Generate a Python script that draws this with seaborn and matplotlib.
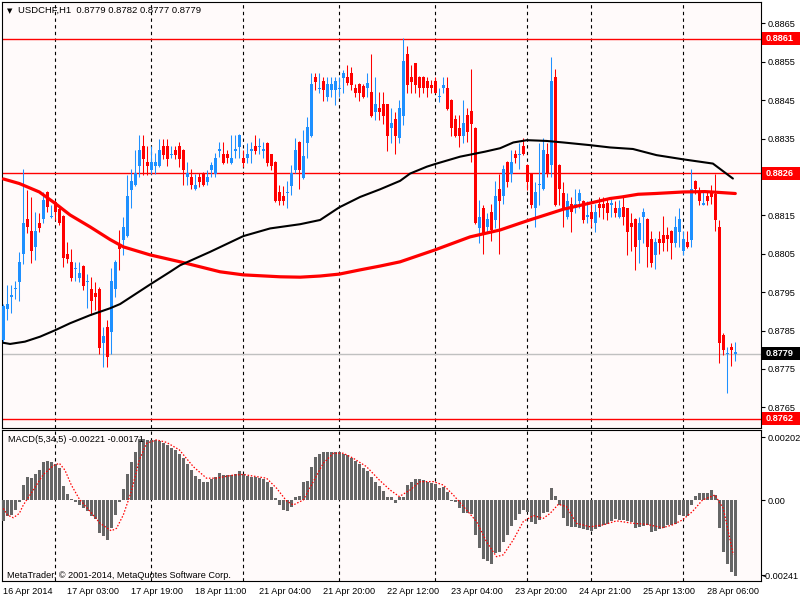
import matplotlib
matplotlib.use('Agg')
import matplotlib.pyplot as plt
import matplotlib.transforms as mtransforms
from matplotlib.patches import Rectangle
import seaborn as sns
import numpy as np
import pandas as pd

sns.set_style('white')
plt.rcParams['font.family'] = ['Liberation Sans', 'DejaVu Sans']

# USDCHF H1 candles (bar 0 = 16 Apr 2014 11:00)
opens = [
    0.87825, 0.87906, 0.87938, 0.87958, 0.87977, 0.88049, 0.88140, 0.88110, 0.88068, 0.88131,
    0.88140, 0.88210, 0.88146, 0.88186, 0.88166, 0.88148, 0.88049, 0.88029, 0.88009, 0.87988,
    0.88018, 0.87976, 0.87957, 0.87947, 0.87958, 0.87817, 0.87858, 0.87847, 0.87957, 0.88075,
    0.88086, 0.88096, 0.88216, 0.88229, 0.88278, 0.88331, 0.88290, 0.88268, 0.88278, 0.88278,
    0.88331, 0.88330, 0.88308, 0.88320, 0.88330, 0.88320, 0.88249, 0.88249, 0.88218, 0.88249,
    0.88261, 0.88238, 0.88268, 0.88258, 0.88319, 0.88310, 0.88310, 0.88287, 0.88319, 0.88329,
    0.88299, 0.88299, 0.88319, 0.88331, 0.88327, 0.88319, 0.88339, 0.88310, 0.88290, 0.88212,
    0.88200, 0.88209, 0.88226, 0.88268, 0.88341, 0.88248, 0.88339, 0.88357, 0.88511, 0.88480,
    0.88501, 0.88459, 0.88478, 0.88478, 0.88480, 0.88509, 0.88511, 0.88521, 0.88481, 0.88492,
    0.88487, 0.88481, 0.88472, 0.88420, 0.88430, 0.88439, 0.88439, 0.88378, 0.88401, 0.88351,
    0.88409, 0.88570, 0.88511, 0.88546, 0.88511, 0.88511, 0.88500, 0.88491, 0.88500, 0.88458,
    0.88481, 0.88481, 0.88450, 0.88401, 0.88378, 0.88357, 0.88411, 0.88422, 0.88378, 0.88118,
    0.88168, 0.88119, 0.88160, 0.88138, 0.88218, 0.88200, 0.88290, 0.88258, 0.88310, 0.88308,
    0.88331, 0.88281, 0.88259, 0.88168, 0.88228, 0.88218, 0.88310, 0.88281, 0.88511, 0.88281,
    0.88209, 0.88146, 0.88180, 0.88168, 0.88188, 0.88188, 0.88147, 0.88160, 0.88129, 0.88180,
    0.88180, 0.88181, 0.88178, 0.88168, 0.88146, 0.88173, 0.88168, 0.88131, 0.88140, 0.88086,
    0.88146, 0.88140, 0.88088, 0.88047, 0.88088, 0.88099, 0.88099, 0.88110, 0.88079, 0.88107,
    0.88058, 0.88081, 0.88086, 0.88239, 0.88212, 0.88178, 0.88200, 0.88212, 0.88207, 0.88119,
    0.87838, 0.87788, 0.87806, 0.87790,
]
highs = [
    0.87919, 0.87969, 0.87969, 0.87980, 0.88055, 0.88271, 0.88216, 0.88199, 0.88160, 0.88157,
    0.88212, 0.88214, 0.88177, 0.88190, 0.88173, 0.88150, 0.88081, 0.88062, 0.88029, 0.88029,
    0.88020, 0.87997, 0.87990, 0.87977, 0.87964, 0.87860, 0.87877, 0.88012, 0.88034, 0.88112,
    0.88146, 0.88255, 0.88270, 0.88320, 0.88359, 0.88359, 0.88331, 0.88331, 0.88312, 0.88349,
    0.88349, 0.88349, 0.88331, 0.88330, 0.88342, 0.88322, 0.88290, 0.88270, 0.88259, 0.88261,
    0.88263, 0.88268, 0.88290, 0.88312, 0.88342, 0.88342, 0.88320, 0.88359, 0.88359, 0.88361,
    0.88320, 0.88338, 0.88342, 0.88359, 0.88351, 0.88342, 0.88341, 0.88311, 0.88291, 0.88229,
    0.88226, 0.88240, 0.88281, 0.88351, 0.88343, 0.88372, 0.88407, 0.88520, 0.88521, 0.88520,
    0.88511, 0.88511, 0.88511, 0.88511, 0.88511, 0.88528, 0.88541, 0.88537, 0.88492, 0.88494,
    0.88492, 0.88520, 0.88570, 0.88511, 0.88472, 0.88472, 0.88441, 0.88430, 0.88420, 0.88450,
    0.88611, 0.88592, 0.88541, 0.88548, 0.88513, 0.88513, 0.88511, 0.88502, 0.88511, 0.88481,
    0.88511, 0.88511, 0.88452, 0.88411, 0.88411, 0.88450, 0.88430, 0.88531, 0.88380, 0.88190,
    0.88177, 0.88157, 0.88180, 0.88239, 0.88259, 0.88281, 0.88292, 0.88320, 0.88320, 0.88339,
    0.88351, 0.88283, 0.88261, 0.88238, 0.88339, 0.88351, 0.88339, 0.88562, 0.88531, 0.88283,
    0.88238, 0.88209, 0.88199, 0.88218, 0.88218, 0.88190, 0.88188, 0.88180, 0.88180, 0.88199,
    0.88199, 0.88192, 0.88192, 0.88188, 0.88190, 0.88197, 0.88170, 0.88155, 0.88142, 0.88146,
    0.88168, 0.88142, 0.88110, 0.88090, 0.88110, 0.88148, 0.88120, 0.88112, 0.88148, 0.88168,
    0.88110, 0.88110, 0.88270, 0.88241, 0.88225, 0.88212, 0.88212, 0.88229, 0.88258, 0.88138,
    0.87843, 0.87806, 0.87817, 0.87820,
]
lows = [
    0.87820, 0.87877, 0.87896, 0.87931, 0.87928, 0.88023, 0.88104, 0.88027, 0.88034, 0.88107,
    0.88129, 0.88158, 0.88144, 0.88138, 0.88125, 0.88016, 0.88025, 0.87980, 0.87980, 0.87977,
    0.87956, 0.87908, 0.87891, 0.87904, 0.87789, 0.87756, 0.87756, 0.87789, 0.87938, 0.88008,
    0.88047, 0.88094, 0.88168, 0.88227, 0.88251, 0.88255, 0.88255, 0.88258, 0.88259, 0.88276,
    0.88296, 0.88279, 0.88299, 0.88296, 0.88277, 0.88229, 0.88229, 0.88218, 0.88216, 0.88225,
    0.88226, 0.88229, 0.88249, 0.88249, 0.88301, 0.88285, 0.88287, 0.88285, 0.88299, 0.88299,
    0.88277, 0.88287, 0.88287, 0.88310, 0.88310, 0.88299, 0.88278, 0.88268, 0.88186, 0.88177,
    0.88177, 0.88168, 0.88203, 0.88261, 0.88218, 0.88246, 0.88299, 0.88355, 0.88478, 0.88468,
    0.88449, 0.88449, 0.88459, 0.88437, 0.88459, 0.88469, 0.88489, 0.88478, 0.88459, 0.88449,
    0.88457, 0.88459, 0.88407, 0.88398, 0.88398, 0.88387, 0.88318, 0.88338, 0.88309, 0.88338,
    0.88385, 0.88470, 0.88470, 0.88470, 0.88459, 0.88470, 0.88459, 0.88470, 0.88468, 0.88446,
    0.88470, 0.88425, 0.88357, 0.88355, 0.88329, 0.88338, 0.88342, 0.88290, 0.88127, 0.88077,
    0.88049, 0.88105, 0.88084, 0.88116, 0.88049, 0.88180, 0.88225, 0.88238, 0.88286, 0.88270,
    0.88308, 0.88216, 0.88168, 0.88119, 0.88177, 0.88216, 0.88249, 0.88249, 0.88175, 0.88177,
    0.88119, 0.88140, 0.88107, 0.88157, 0.88168, 0.88129, 0.88129, 0.88119, 0.88107, 0.88146,
    0.88140, 0.88138, 0.88146, 0.88146, 0.88144, 0.88125, 0.88047, 0.88058, 0.88007, 0.88027,
    0.88079, 0.88016, 0.88016, 0.88010, 0.88049, 0.88058, 0.88058, 0.88036, 0.88068, 0.88068,
    0.88047, 0.88066, 0.88068, 0.88207, 0.88177, 0.88177, 0.88177, 0.88180, 0.88110, 0.87766,
    0.87786, 0.87687, 0.87758, 0.87770,
]
closes = [
    0.87914, 0.87919, 0.87942, 0.87962, 0.88029, 0.88131, 0.88119, 0.88058, 0.88109, 0.88118,
    0.88190, 0.88171, 0.88148, 0.88160, 0.88129, 0.88038, 0.88037, 0.87988, 0.88012, 0.88001,
    0.87966, 0.87979, 0.87928, 0.87938, 0.87805, 0.87837, 0.87782, 0.87979, 0.88029, 0.88062,
    0.88120, 0.88200, 0.88240, 0.88261, 0.88320, 0.88296, 0.88278, 0.88290, 0.88290, 0.88320,
    0.88307, 0.88296, 0.88311, 0.88307, 0.88296, 0.88268, 0.88261, 0.88229, 0.88229, 0.88238,
    0.88229, 0.88249, 0.88281, 0.88299, 0.88321, 0.88287, 0.88299, 0.88299, 0.88321, 0.88359,
    0.88287, 0.88310, 0.88321, 0.88318, 0.88330, 0.88321, 0.88286, 0.88278, 0.88188, 0.88188,
    0.88188, 0.88211, 0.88261, 0.88320, 0.88268, 0.88306, 0.88379, 0.88492, 0.88498, 0.88482,
    0.88478, 0.88492, 0.88492, 0.88501, 0.88482, 0.88520, 0.88496, 0.88489, 0.88469, 0.88469,
    0.88459, 0.88494, 0.88409, 0.88439, 0.88420, 0.88409, 0.88357, 0.88390, 0.88357, 0.88430,
    0.88552, 0.88491, 0.88498, 0.88491, 0.88481, 0.88481, 0.88481, 0.88481, 0.88470, 0.88460,
    0.88491, 0.88427, 0.88378, 0.88357, 0.88357, 0.88390, 0.88368, 0.88387, 0.88129, 0.88146,
    0.88101, 0.88140, 0.88112, 0.88200, 0.88188, 0.88270, 0.88238, 0.88290, 0.88299, 0.88310,
    0.88310, 0.88238, 0.88177, 0.88212, 0.88230, 0.88320, 0.88258, 0.88500, 0.88177, 0.88218,
    0.88168, 0.88188, 0.88160, 0.88180, 0.88209, 0.88138, 0.88150, 0.88140, 0.88160, 0.88168,
    0.88168, 0.88157, 0.88181, 0.88157, 0.88168, 0.88146, 0.88107, 0.88119, 0.88068, 0.88131,
    0.88158, 0.88068, 0.88027, 0.88081, 0.88079, 0.88079, 0.88088, 0.88079, 0.88120, 0.88141,
    0.88088, 0.88068, 0.88218, 0.88218, 0.88188, 0.88181, 0.88188, 0.88199, 0.88138, 0.87817,
    0.87798, 0.87790, 0.87798, 0.87790,
]

# slow moving average (red) and fast moving average (black), sampled by bar
red_ma_x = [0, 4, 9, 13, 16.7, 21.7, 26.7, 30, 36.7, 44.2, 49.2, 54.2, 60, 69.2, 74.2,
            79.2, 84, 89.2, 94.2, 99.2, 107.9, 116.7, 124.2, 131, 140, 151.7, 154.6,
            158.7, 163, 170, 175.4, 178.7, 183]
red_ma_y = [0.88245, 0.88233, 0.88211, 0.88181, 0.88151, 0.88120, 0.88087, 0.88068,
            0.88047, 0.88029, 0.88016, 0.88003, 0.87995, 0.87990, 0.87989, 0.87992,
            0.87997, 0.88008, 0.88018, 0.88029, 0.88060, 0.88094, 0.88112, 0.88136,
            0.88166, 0.88194, 0.88198, 0.88205, 0.88207, 0.88211, 0.88212, 0.88210, 0.88207]
black_ma_x = [0, 1.7, 5.4, 9.2, 13, 16.7, 21.7, 26.7, 29.2, 36.7, 41.7, 44.2, 51.7, 60,
              66.7, 74.2, 79.2, 84, 89.2, 94.2, 99.2, 101.7, 105.9, 108, 114.2, 120.4,
              124.2, 127.5, 130.9, 135.8, 140, 146.7, 151.7, 157.4, 163.3, 170, 177.4, 182.4]
black_ma_y = [0.87818, 0.87815, 0.87821, 0.87834, 0.87851, 0.87869, 0.87890, 0.87908,
              0.87919, 0.87970, 0.88003, 0.88020, 0.88055, 0.88096, 0.88116, 0.88127,
              0.88138, 0.88171, 0.88198, 0.88218, 0.88240, 0.88259, 0.88277, 0.88284,
              0.88303, 0.88316, 0.88325, 0.88340, 0.88346, 0.88344, 0.88340, 0.88333,
              0.88327, 0.88323, 0.88307, 0.88296, 0.88285, 0.88246]

# MACD(5,34,5) main histogram, one value per bar
macd = [
    -0.00068, -0.00052, -0.00047, -0.00031, -0.00006, 0.00049, 0.00076, 0.00070, 0.00083, 0.00097,
    0.00122, 0.00127, 0.00124, 0.00116, 0.00105, 0.00046, 0.00019, 0.00004, -0.00006, -0.00015,
    -0.00024, -0.00033, -0.00052, -0.00061, -0.00104, -0.00115, -0.00129, -0.00088, -0.00047, -0.00007,
    0.00036, 0.00083, 0.00124, 0.00154, 0.00197, 0.00197, 0.00194, 0.00194, 0.00193, 0.00190,
    0.00183, 0.00178, 0.00169, 0.00162, 0.00148, 0.00135, 0.00116, 0.00097, 0.00078, 0.00068,
    0.00060, 0.00060, 0.00068, 0.00074, 0.00087, 0.00081, 0.00081, 0.00081, 0.00083, 0.00094,
    0.00083, 0.00079, 0.00076, 0.00074, 0.00073, 0.00068, 0.00060, 0.00044, 0.00006, -0.00015,
    -0.00031, -0.00034, -0.00020, 0.00012, 0.00015, 0.00058, 0.00062, 0.00108, 0.00138, 0.00148,
    0.00154, 0.00156, 0.00156, 0.00156, 0.00154, 0.00148, 0.00146, 0.00137, 0.00126, 0.00116,
    0.00103, 0.00095, 0.00074, 0.00060, 0.00046, 0.00030, 0.00011, 0.00009, -0.00009, 0.00012,
    0.00012, 0.00049, 0.00058, 0.00067, 0.00067, 0.00065, 0.00060, 0.00055, 0.00051, 0.00041,
    0.00043, 0.00028, -0.00002, -0.00004, -0.00026, -0.00042, -0.00042, -0.00045, -0.00113, -0.00152,
    -0.00188, -0.00195, -0.00205, -0.00170, -0.00165, -0.00135, -0.00111, -0.00082, -0.00063, -0.00045,
    -0.00031, -0.00039, -0.00071, -0.00077, -0.00063, -0.00042, -0.00039, 0.00041, 0.00015, -0.00015,
    -0.00056, -0.00081, -0.00085, -0.00085, -0.00090, -0.00092, -0.00095, -0.00098, -0.00092, -0.00085,
    -0.00079, -0.00076, -0.00068, -0.00061, -0.00063, -0.00063, -0.00068, -0.00070, -0.00090, -0.00085,
    -0.00082, -0.00079, -0.00101, -0.00099, -0.00092, -0.00088, -0.00079, -0.00079, -0.00077, -0.00047,
    -0.00049, -0.00049, -0.00015, 0.00015, 0.00022, 0.00022, 0.00024, 0.00032, 0.00017, -0.00090,
    -0.00165, -0.00205, -0.00229, -0.00242,
]
signal_x = [0, 1, 2.5, 4, 5, 7.5, 10, 12.5, 14, 15.4, 17, 19, 21.7, 24.2, 27, 28.3, 30, 32,
            34, 35.8, 38.3, 40.8, 44, 47.5, 50.8, 53.3, 57.5, 60, 63.3, 65.8, 68.3, 70.8,
            72.5, 75, 77.5, 80, 82.5, 85, 87.5, 90.8, 94, 96.7, 99, 101.7, 104.2, 107.5,
            110, 112.5, 115.8, 118.3, 120.8, 123.3, 125, 127.5, 130, 132.5, 135, 136.7,
            138.75, 140.8, 143.3, 146.7, 150, 153.3, 157.5, 160.8, 164.8, 167.3, 169.8,
            172.3, 174.8, 177.9, 180, 182.5]
signal_y = [-0.00026, -0.00047, -0.00056, -0.00042, -0.00015, 0.00033, 0.00083, 0.00111,
            0.00119, 0.00097, 0.00049, 0.00004, -0.00036, -0.00074, -0.00098, -0.00090,
            -0.00047, 0.00028, 0.00129, 0.00183, 0.00194, 0.00186, 0.00162, 0.00108,
            0.00071, 0.00071, 0.00081, 0.00083, 0.00076, 0.00071, 0.00039, -0.00002,
            -0.00015, 0.00001, 0.00060, 0.00119, 0.00151, 0.00151, 0.00135, 0.00108,
            0.00065, 0.00033, 0.00012, 0.00033, 0.00060, 0.00060, 0.00049, 0.00017,
            -0.00031, -0.00068, -0.00133, -0.00181, -0.00175, -0.00127, -0.00068, -0.00049,
            -0.00058, -0.00042, -0.00013, -0.00020, -0.00074, -0.00085, -0.00079, -0.00066,
            -0.00074, -0.00077, -0.00088, -0.00079, -0.00063, -0.00036, 0.00001, 0.00017,
            -0.00026, -0.00175]

time_labels = ['16 Apr 2014', '17 Apr 03:00', '17 Apr 19:00', '18 Apr 11:00', '21 Apr 04:00',
               '21 Apr 20:00', '22 Apr 12:00', '23 Apr 04:00', '23 Apr 20:00', '24 Apr 21:00',
               '25 Apr 13:00', '28 Apr 06:00']
day_breaks = [13, 37, 60, 84, 108, 131, 147, 170]
price_ticks = [0.8865, 0.8855, 0.8845, 0.8835, 0.8815, 0.8805, 0.8795, 0.8785, 0.8775, 0.8765]
red_levels = [0.8861, 0.8826, 0.8762]
bid = 0.8779

BULL = '#1e90ff'
BEAR = '#ff0000'
PANEL_BG = '#fffafa'

df = pd.DataFrame({'open': opens, 'high': highs, 'low': lows, 'close': closes})
df['bar'] = np.arange(len(df))
df['up'] = df['close'] >= df['open']
df['color'] = np.where(df['up'], BULL, BEAR)
df['body_low'] = df[['open', 'close']].min(axis=1)
df['body_h'] = (df['close'] - df['open']).abs().clip(lower=0.000028)

W, H = 800, 600
fig = plt.figure(figsize=(8, 6), dpi=100)
fig.patch.set_facecolor('white')
ax = fig.add_axes([2 / W, 1 - 428 / H, 758.7 / W, 426 / H])
axm = fig.add_axes([2 / W, 1 - 581 / H, 758.7 / W, 151 / H], sharex=ax)

for a in (ax, axm):
    a.set_facecolor(PANEL_BG)
    for s in a.spines.values():
        s.set_color('black')
        s.set_linewidth(0.8)
    for b in day_breaks:
        a.axvline(b, color='black', lw=0.8, ls=(0, (3, 3)), zorder=1)

# price panel
for lvl in red_levels:
    ax.axhline(lvl, color='#ff0000', lw=1.0, zorder=1)
ax.axhline(bid, color='#c0c0c0', lw=1.0, zorder=1)

ax.vlines(df['bar'], df['low'], df['high'], colors=df['color'], lw=0.75, zorder=3)
ax.bar(df['bar'], df['body_h'], bottom=df['body_low'], width=0.75,
       color=df['color'], linewidth=0, zorder=4)

sns.lineplot(x=red_ma_x, y=red_ma_y, ax=ax, color='red', lw=2.3,
             estimator=None, sort=False, zorder=5)
sns.lineplot(x=black_ma_x, y=black_ma_y, ax=ax, color='black', lw=1.5,
             estimator=None, sort=False, zorder=5)

ax.set_xlim(-0.33, 189.35)
ax.set_ylim(0.87596, 0.88706)
ax.yaxis.tick_right()
ax.set_yticks(price_ticks)
ax.set_yticklabels([f'{t:.4f}' for t in price_ticks])
ax.tick_params(axis='y', direction='out', length=3, width=0.8, pad=2,
               labelsize=6.6, colors='black')
ax.tick_params(axis='x', bottom=False, labelbottom=False)
ax.set_xlabel('')
ax.set_ylabel('')

# price boxes on the right scale
trans = mtransforms.blended_transform_factory(fig.transFigure, ax.transData)
box_h = 13 / 38400
for lvl, bg in [(0.8861, 'red'), (0.8826, 'red'), (0.8762, 'red'), (bid, 'black')]:
    ax.add_patch(Rectangle((761.8 / W, lvl - box_h / 2), (800 - 761.8) / W, box_h,
                           transform=trans, facecolor=bg, edgecolor='none',
                           clip_on=False, zorder=6))
    ax.text(766 / W, lvl, f'{lvl:.4f}', transform=trans, color='white',
            fontsize=6.6, fontweight='bold', va='center', ha='left', zorder=7)

# MACD panel
axm.bar(df['bar'], macd, width=0.75, color='#666666', linewidth=0, zorder=3)
axm.plot(signal_x, signal_y, color='red', lw=0.9, ls=(0, (1.2, 1.4)), zorder=4)
axm.set_ylim(-0.002591, 0.002257)
axm.yaxis.tick_right()
axm.set_yticks([0.00202, 0.0, -0.00241])
axm.set_yticklabels(['0.00202', '0.00', '-0.00241'])
axm.tick_params(axis='y', direction='out', length=3, width=0.8, pad=2,
                labelsize=6.6, colors='black')
# the negative label hangs a little to the left so it fits the window
neg_label = axm.get_yticklabels()[2]
neg_label.set_transform(neg_label.get_transform() +
                        mtransforms.ScaledTranslation(-3.5 / 72, 0, fig.dpi_scale_trans))
axm.set_xticks([16 * k - 0.2 for k in range(len(time_labels))])
axm.set_xticklabels(time_labels, ha='left')
axm.tick_params(axis='x', direction='out', length=3, width=0.8, pad=1.5,
                labelsize=6.6, colors='black')
axm.set_xlabel('')
axm.set_ylabel('')

# header and footer texts
fig.text(7 / W, 1 - 10.7 / H, '\u25bc', fontsize=5, family='DejaVu Sans',
         va='center', ha='left', color='black')
fig.text(18 / W, 1 - 10.7 / H, 'USDCHF,H1  0.8779 0.8782 0.8777 0.8779',
         fontsize=6.8, va='center', ha='left', color='black')
fig.text(7.5 / W, 1 - 440 / H, 'MACD(5,34,5) -0.00221 -0.00171',
         fontsize=6.6, va='center', ha='left', color='black')
fig.text(7 / W, 1 - 575 / H, 'MetaTrader, \u00a9 2001-2014, MetaQuotes Software Corp.',
         fontsize=6.6, va='center', ha='left', color='black')

fig.savefig('out.png', dpi=100, facecolor='white')
